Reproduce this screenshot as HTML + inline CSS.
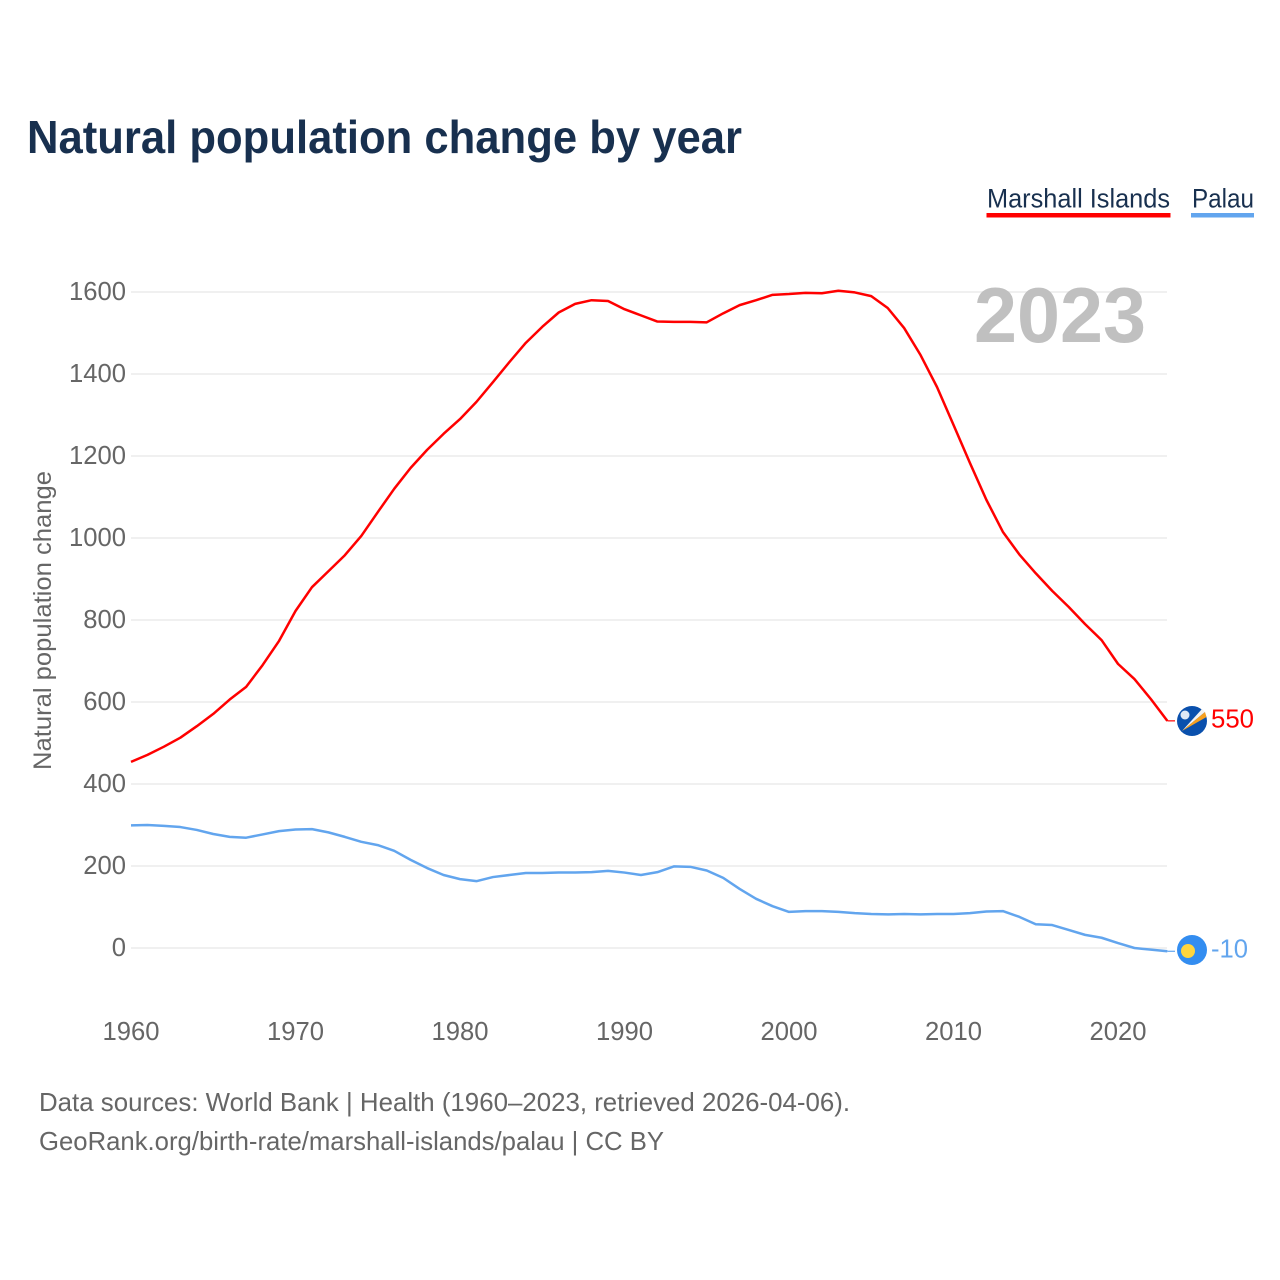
<!DOCTYPE html>
<html lang="en">
<head>
<meta charset="utf-8">
<title>Natural population change by year</title>
<style>
html,body{margin:0;padding:0;background:#fff;}
svg{display:block;font-family:"Liberation Sans",sans-serif;}
</style>
</head>
<body>
<svg id="chart" xmlns="http://www.w3.org/2000/svg" width="1280" height="1280" viewBox="0 0 1280 1280">
  <rect x="0" y="0" width="1280" height="1280" fill="#ffffff"/>
  <text x="27" y="153" font-size="46" font-weight="700" fill="#18304f" textLength="715" lengthAdjust="spacingAndGlyphs">Natural population change by year</text>
  <g>
    <text x="987" y="207.5" font-size="27" fill="#18304f" textLength="183" lengthAdjust="spacingAndGlyphs">Marshall Islands</text>
    <rect x="986.5" y="213" width="184" height="4.5" fill="#ff0000"/>
  </g>
  <g>
    <text x="1192" y="207.5" font-size="27" fill="#18304f" textLength="62" lengthAdjust="spacingAndGlyphs">Palau</text>
    <rect x="1191" y="213" width="63" height="4.5" fill="#62a5ee"/>
  </g>
  <text transform="translate(51,770) rotate(-90)" font-size="25" fill="#666666" textLength="299" lengthAdjust="spacingAndGlyphs">Natural population change</text>
  <g id="grid"></g>
  <g id="yticks"></g>
  <g id="xticks"></g>
  <text x="974" y="342" font-size="78" font-weight="700" fill="#c0c0c0" textLength="172" lengthAdjust="spacingAndGlyphs">2023</text>
  <g id="series"></g>
  <g>
    <circle cx="1192" cy="721" r="15" fill="#0a50ad"/>
    <circle cx="1185" cy="715" r="4.5" fill="#dfe8f5"/>
    <path d="M1182 731 L1202 709 L1205 712 Z" fill="#f2f2f2"/>
    <path d="M1182 731 L1205 712 L1206.5 717 Z" fill="#f7a020"/>
  </g>
  <g>
    <circle cx="1192" cy="950" r="15" fill="#338df0"/>
    <circle cx="1188" cy="951" r="7" fill="#ffd53d"/>
  </g>
  <text x="1211" y="727.5" font-size="26" fill="#ff0000" textLength="43" lengthAdjust="spacingAndGlyphs">550</text>
  <text x="1211" y="957.5" font-size="26" fill="#62a5ee" textLength="37" lengthAdjust="spacingAndGlyphs">-10</text>
  <text x="39" y="1111" font-size="26" fill="#666666" textLength="811" lengthAdjust="spacingAndGlyphs">Data sources: World Bank | Health (1960–2023, retrieved 2026-04-06).</text>
  <text x="39" y="1150" font-size="26" fill="#666666" textLength="625" lengthAdjust="spacingAndGlyphs">GeoRank.org/birth-rate/marshall-islands/palau | CC BY</text>
</svg>
<script>
var years = [1960,1961,1962,1963,1964,1965,1966,1967,1968,1969,1970,1971,1972,1973,1974,1975,1976,1977,1978,1979,1980,1981,1982,1983,1984,1985,1986,1987,1988,1989,1990,1991,1992,1993,1994,1995,1996,1997,1998,1999,2000,2001,2002,2003,2004,2005,2006,2007,2008,2009,2010,2011,2012,2013,2014,2015,2016,2017,2018,2019,2020,2021,2022,2023];
var marshallIslands = [454,471,491,513,541,571,606,637,690,749,822,880,919,958,1005,1063,1120,1171,1215,1254,1290,1332,1380,1429,1476,1515,1550,1571,1580,1578,1558,1543,1528,1527,1527,1526,1548,1568,1580,1593,1595,1598,1597,1603,1599,1590,1561,1512,1446,1368,1276,1183,1093,1015,960,914,871,832,790,751,693,656,607,554];
var palau = [299,300,298,295,288,278,271,269,277,285,289,290,282,271,259,251,237,215,195,178,168,163,173,178,183,183,184,184,185,188,184,178,185,199,198,189,171,144,120,102,88,90,90,88,85,83,82,83,82,83,83,85,89,90,76,58,56,44,32,25,12,0,-4,-8];
var yTickValues = [0,200,400,600,800,1000,1200,1400,1600];
var xTickValues = [1960,1970,1980,1990,2000,2010,2020];

var svgNS = 'http://www.w3.org/2000/svg';
function xScale(year) { return 131 + (year - 1960) * 16.45; }
function yScale(value) { return 948 - value * 0.41; }
function make(tag, attrs, parent, text) {
  var el = document.createElementNS(svgNS, tag);
  for (var k in attrs) { el.setAttribute(k, attrs[k]); }
  if (text !== undefined) { el.textContent = text; }
  parent.appendChild(el);
  return el;
}
var grid = document.getElementById('grid');
var yticks = document.getElementById('yticks');
var xticks = document.getElementById('xticks');
var series = document.getElementById('series');
var digitWidth = 14.25;

yTickValues.forEach(function (v) {
  var line = make('line', {x1: 131, x2: 1167, y1: yScale(v), y2: yScale(v), stroke: '#e8e8e8', 'stroke-width': 1.2}, grid);
  
  
  var s = String(v);
  var label = make('text', {x: 126, y: yScale(v) + 8, 'font-size': 26, fill: '#666666', 'text-anchor': 'end', textLength: s.length * digitWidth, lengthAdjust: 'spacingAndGlyphs'}, yticks, s);
  
  
});
xTickValues.forEach(function (v) {
  var s = String(v);
  var label = make('text', {x: xScale(v), y: 1040, 'font-size': 26, fill: '#666666', 'text-anchor': 'middle', textLength: s.length * digitWidth, lengthAdjust: 'spacingAndGlyphs'}, xticks, s);
  
  
});
function points(values) {
  return values.map(function (v, i) { return xScale(years[i]).toFixed(2) + ',' + yScale(v).toFixed(2); }).join(' ');
}
function drawConnector(values, color) {
  var last = values[values.length - 1];
  var y = yScale(last);
  var c = make('line', {x1: xScale(years[years.length - 1]), x2: 1175, y1: y, y2: y, stroke: color, 'stroke-width': 1.2}, series);
  return c;
}
var palauLine = make('polyline', {points: points(palau), fill: 'none', stroke: '#62a5ee', 'stroke-width': 2.5, 'stroke-linejoin': 'round'}, series);


var palauConnector = drawConnector(palau, '#62a5ee');


var marshallLine = make('polyline', {points: points(marshallIslands), fill: 'none', stroke: '#ff0000', 'stroke-width': 2.5, 'stroke-linejoin': 'round'}, series);


var marshallConnector = drawConnector(marshallIslands, '#ff0000');


</script>
</body>
</html>
